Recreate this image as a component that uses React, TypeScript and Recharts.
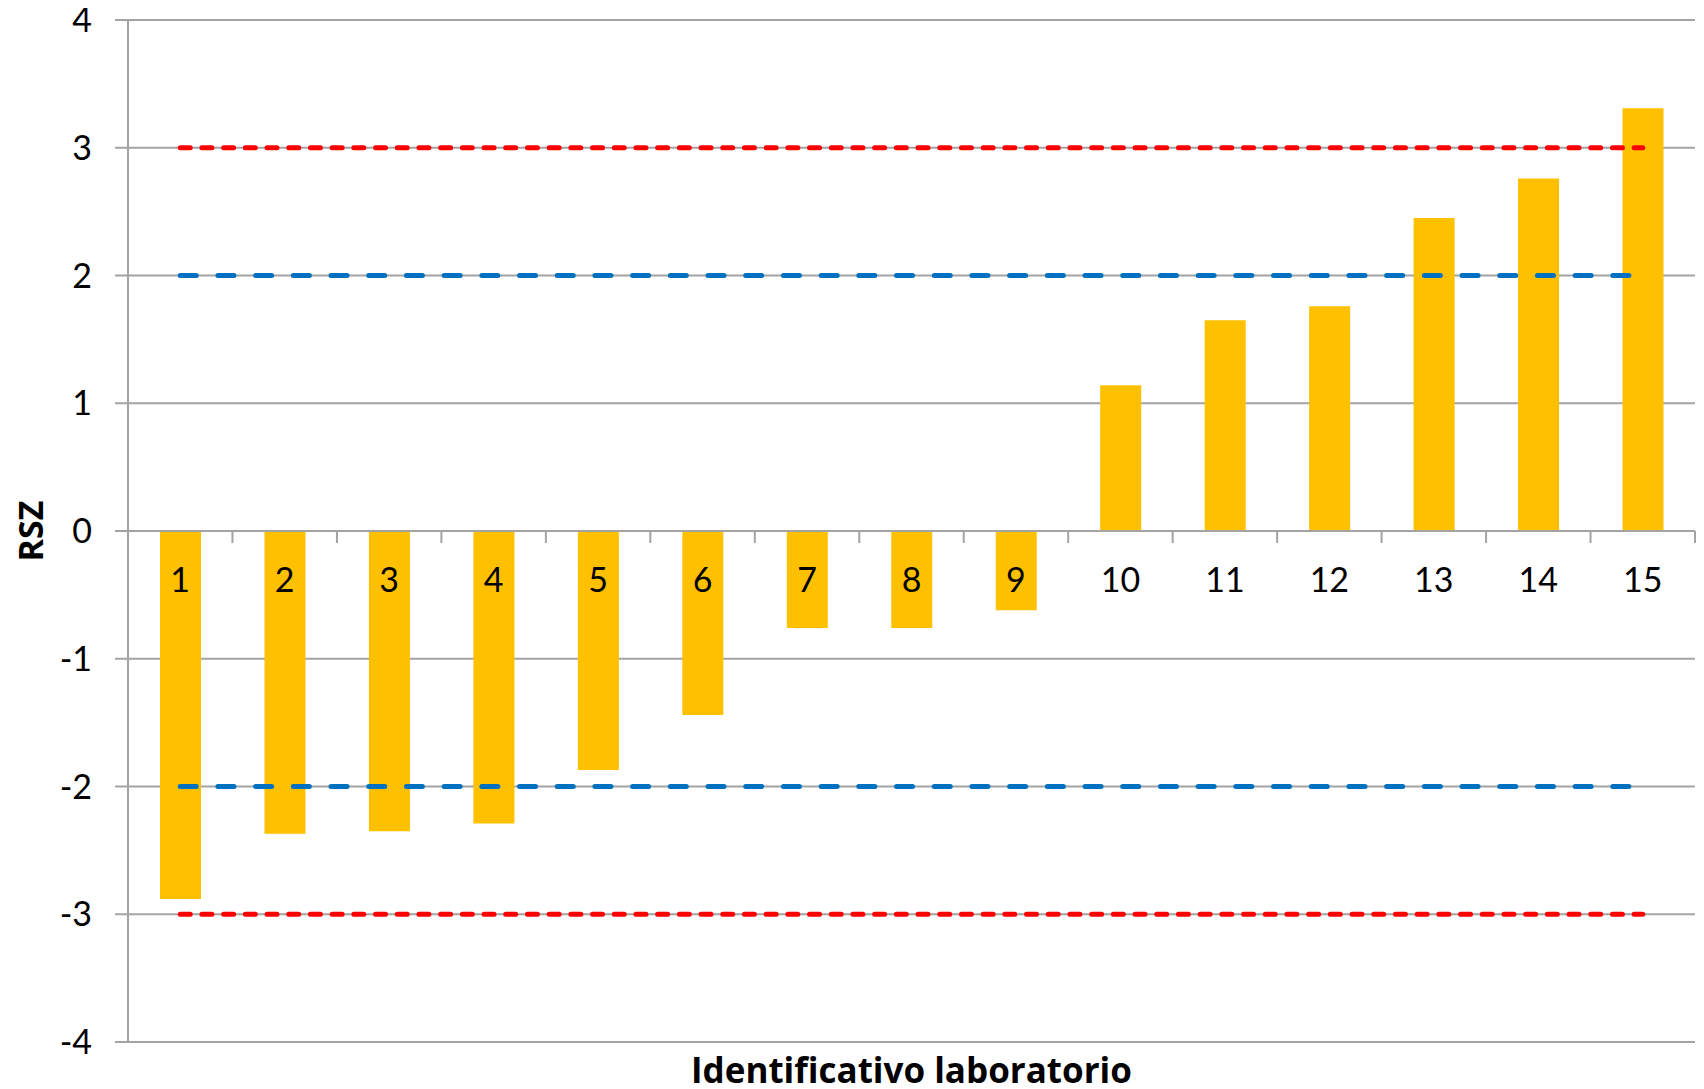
import React from "react";
import {
  ComposedChart,
  Bar,
  Line,
  XAxis,
  YAxis,
  CartesianGrid,
  ReferenceLine,
  Label,
} from "recharts";

// lab ids and their RSZ scores
const labs = ["1", "2", "3", "4", "5", "6", "7", "8", "9", "10", "11", "12", "13", "14", "15"];
const rsz = [-2.88, -2.37, -2.35, -2.29, -1.87, -1.44, -0.76, -0.76, -0.62, 1.14, 1.65, 1.76, 2.45, 2.76, 3.31];
const yTicks = [-4, -3, -2, -1, 0, 1, 2, 3, 4];
// warning (|z| = 2) and action (|z| = 3) limits
const warningLimits = [2, -2];
const actionLimits = [3, -3];

const data = labs.map((lab, i) => ({
  lab,
  rsz: rsz[i],
  warnUp: warningLimits[0],
  warnLow: warningLimits[1],
  actUp: actionLimits[0],
  actLow: actionLimits[1],
}));

const W = 1696;
const H = 1081;
const MARGIN = { top: 12, right: 9, bottom: 0, left: 0 };
const Y_AXIS_W = 120;
const X_AXIS_H = 47;
const PLOT_H = H - MARGIN.top - MARGIN.bottom - X_AXIS_H;
const PLOT_W = W - MARGIN.left - MARGIN.right - Y_AXIS_W;
const BAND = PLOT_W / labs.length;

const GRID = "#a3a3a3";
const FONT = "Lato, 'Open Sans', sans-serif";
const TITLE_FONT = "'Open Sans', Lato, sans-serif";

// category labels sit just under the zero line, with tick marks between bands
const CatTick = (props: any) => {
  const { x, y, payload } = props;
  const zeroY = y - PLOT_H / 2;
  return (
    <g>
      <line x1={x + BAND / 2} y1={zeroY} x2={x + BAND / 2} y2={zeroY + 12} stroke={GRID} strokeWidth={2} />
      <text x={x} y={zeroY + 61} textAnchor="middle" fontSize={34} fill="#000" fontFamily={FONT}>
        {payload.value}
      </text>
    </g>
  );
};

export default function App() {
  return (
    <div style={{ width: W, height: H, fontFamily: FONT, background: "#fff" }}>
      <ComposedChart width={W} height={H} data={data} margin={MARGIN} style={{ overflow: "visible" }}>
        <CartesianGrid vertical={false} stroke={GRID} strokeWidth={2} />
        <XAxis
          dataKey="lab"
          height={X_AXIS_H}
          interval={0}
          axisLine={false}
          tickLine={false}
          tickSize={0}
          tickMargin={0}
          tick={<CatTick />}
        >
          <Label
            value="Identificativo laboratorio"
            position="insideBottom"
            offset={6}
            style={{ fontSize: 35, fontWeight: 700, fill: "#000", fontFamily: TITLE_FONT }}
          />
        </XAxis>
        <YAxis
          width={Y_AXIS_W}
          domain={[-4, 4]}
          ticks={yTicks}
          interval={0}
          axisLine={{ stroke: GRID, strokeWidth: 2 }}
          tickLine={{ stroke: GRID, strokeWidth: 2 }}
          tickSize={13}
          tickMargin={23}
          tick={{ fontSize: 34, fill: "#000", fontFamily: FONT }}
        >
          <Label
            content={(p: any) => {
              const vb = p.viewBox;
              const cx = 22;
              const cy = vb.y + vb.height / 2;
              return (
                <text
                  x={cx}
                  y={cy}
                  transform={`rotate(-90 ${cx} ${cy})`}
                  textAnchor="middle"
                  dominantBaseline="central"
                  fontSize={34}
                  fontWeight={700}
                  fill="#000"
                  fontFamily={TITLE_FONT}
                >
                  RSZ
                </text>
              );
            }}
          />
        </YAxis>
        <Bar dataKey="rsz" fill="#ffc000" barSize={41} isAnimationActive={false} />
        <ReferenceLine y={0} stroke={GRID} strokeWidth={2} />
        <Line type="linear" dataKey="warnUp" stroke="#0070c0" strokeWidth={5} strokeDasharray="16 21.7" strokeLinecap="round" dot={false} activeDot={false} isAnimationActive={false} />
        <Line type="linear" dataKey="warnLow" stroke="#0070c0" strokeWidth={5} strokeDasharray="16 21.7" strokeLinecap="round" dot={false} activeDot={false} isAnimationActive={false} />
        <Line type="linear" dataKey="actUp" stroke="#ff0000" strokeWidth={5} strokeDasharray="10 11.7" strokeLinecap="round" dot={false} activeDot={false} isAnimationActive={false} />
        <Line type="linear" dataKey="actLow" stroke="#ff0000" strokeWidth={5} strokeDasharray="10 11.7" strokeLinecap="round" dot={false} activeDot={false} isAnimationActive={false} />
      </ComposedChart>
    </div>
  );
}
